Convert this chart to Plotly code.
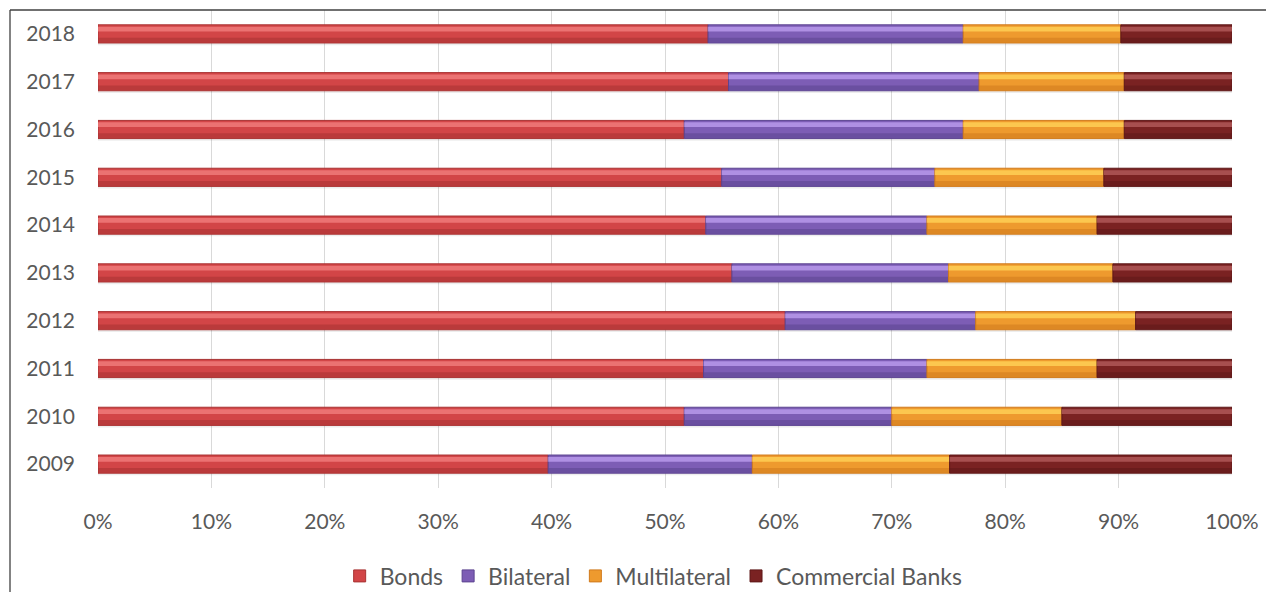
import plotly.graph_objects as go
import numpy as np

years = ["2009", "2010", "2011", "2012", "2013", "2014", "2015", "2016", "2017", "2018"]
bonds = [39.7, 51.7, 53.4, 60.6, 55.9, 53.6, 55.0, 51.7, 55.6, 53.8]
bilateral = [18.0, 18.3, 19.7, 16.8, 19.1, 19.5, 18.8, 24.6, 22.1, 22.5]
multilateral = [17.4, 15.0, 15.0, 14.1, 14.5, 15.0, 14.9, 14.2, 12.8, 13.9]
commercial = [24.9, 15.0, 11.9, 8.5, 10.5, 11.9, 11.3, 9.5, 9.5, 9.8]

series = [
    ("Bonds", bonds, "#d24547", "#f07a7a", "#a83232"),
    ("Bilateral", bilateral, "#7d5db5", "#b899ec", "#5c4490"),
    ("Multilateral", multilateral, "#ee9a2e", "#ffcf55", "#d07a1c"),
    ("Commercial Banks", commercial, "#7a2222", "#b05858", "#5e1818"),
]

FONT = "Lato"
TXT = "#595959"

fig = go.Figure()
base = np.zeros(len(years))
W = 0.38
for name, vals, mid, light, dark in series:
    vals = np.array(vals)
    # faint drop shadow
    fig.add_trace(go.Bar(y=years, x=vals, base=base, orientation="h",
                         width=0.05, offset=-W / 2 - 0.045,
                         marker=dict(color="rgba(0,0,0,0.07)", line=dict(width=0)),
                         showlegend=False, hoverinfo="skip"))
    # main bar
    fig.add_trace(go.Bar(y=years, x=vals, base=base, orientation="h", name=name,
                         width=W, offset=-W / 2,
                         marker=dict(color=mid, line=dict(color=dark, width=1)),
                         legendgroup=name))
    # lower dark band
    fig.add_trace(go.Bar(y=years, x=vals, base=base, orientation="h",
                         width=0.1, offset=-W / 2 + 0.01,
                         marker=dict(color=dark, line=dict(width=0)), opacity=0.55,
                         showlegend=False, hoverinfo="skip", legendgroup=name))
    # upper highlight band
    fig.add_trace(go.Bar(y=years, x=vals, base=base, orientation="h",
                         width=0.1, offset=0.05,
                         marker=dict(color=light, line=dict(width=0)), opacity=0.85,
                         showlegend=False, hoverinfo="skip", legendgroup=name))
    base = base + vals

fig.update_layout(
    width=1266, height=592,
    barmode="overlay",
    plot_bgcolor="white", paper_bgcolor="white",
    margin=dict(l=98, r=34, t=10, b=104, autoexpand=False),
    font=dict(family=FONT, color=TXT, size=21),
    xaxis=dict(range=[0, 100], dtick=10, ticksuffix="%", showgrid=True,
               gridcolor="#d9d9d9", gridwidth=1, zeroline=False, showline=False,
               ticks="", ticklabelstandoff=19, tickfont=dict(size=21, color=TXT, family=FONT),
               automargin=False, fixedrange=True),
    yaxis=dict(type="category", categoryorder="array", categoryarray=years,
               range=[-0.5, 9.5], showgrid=False, zeroline=False, showline=False,
               ticks="", ticklabelstandoff=22, automargin=False,
               tickfont=dict(size=21, color=TXT, family=FONT)),
    legend=dict(orientation="h", x=0.49, xanchor="center", y=-0.184, yanchor="middle",
                font=dict(size=23, color=TXT, family=FONT), traceorder="normal",
                itemwidth=30, bgcolor="rgba(0,0,0,0)"),
    shapes=[
        dict(type="line", xref="paper", yref="paper", x0=-0.0776, x1=1.04, y0=1.0, y1=1.0,
             line=dict(color="#404040", width=1.3)),
        dict(type="line", xref="paper", yref="paper", x0=-0.0776, x1=-0.0776, y0=1.0, y1=-0.25,
             line=dict(color="#404040", width=1.3)),
    ],
    showlegend=True,
)

fig.write_html("out.html")
